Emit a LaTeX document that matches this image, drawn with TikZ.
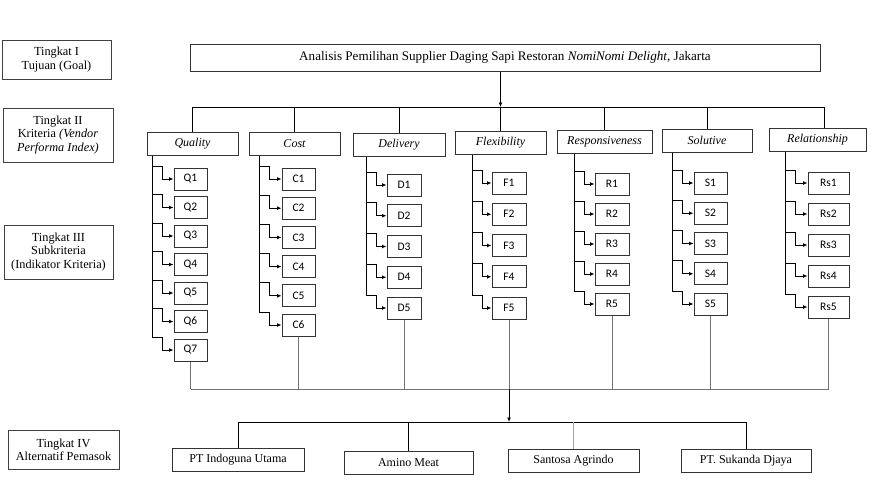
\documentclass[tikz,border=0pt]{standalone}
\usepackage{fontspec}
\setmainfont{Liberation Serif}
\newfontfamily\codefont{Carlito}
\usetikzlibrary{positioning,calc,arrows.meta}

\begin{document}
\begin{tikzpicture}[x=1pt, y=-1pt,
    level box/.style={draw=black!75, line width=1pt, rectangle, inner sep=0, align=center, font=\fontsize{12.3}{13.3}\selectfont},
    goal box/.style={draw=black!80, line width=1pt, rectangle, minimum width=630, minimum height=27, inner sep=0, font=\fontsize{13.1}{15}\selectfont},
    crit box/.style={draw=black!80, line width=1pt, rectangle, minimum height=23, inner sep=0, font=\fontsize{12}{14}\selectfont\itshape},
    sub box/.style={draw=black!80, line width=1pt, rectangle, minimum height=22, inner sep=0, font=\codefont\fontsize{11.5}{13}\selectfont},
    alt box/.style={draw=black!80, line width=1pt, rectangle, minimum height=23, inner sep=0, font=\fontsize{12}{14}\selectfont},
    link/.style={line width=0.9pt},
    grey link/.style={line width=0.9pt, black!55},
    >={Latex[length=4.5pt,width=4pt]}]
    \useasboundingbox (0,0) rectangle (881,490);

    % tingkat
    \node[level box, minimum width=109, minimum height=39] (lvl1) at (56.5,59.5) {Tingkat I\\Tujuan (Goal)};
    \node[level box, minimum width=110, minimum height=54] (lvl2) at (58,135) {Tingkat II\\Kriteria \textit{(Vendor}\\\textit{Performa Index)}};
    \node[level box, minimum width=109, minimum height=54] (lvl3) at (58.5,252) {Tingkat III\\Subkriteria\\(Indikator Kriteria)};
    \node[level box, minimum width=111, minimum height=39] (lvl4) at (63.5,449.5) {Tingkat IV\\Alternatif Pemasok};

    % goal and kriteria
    \node[goal box] (goal) at (505,57.5) {Analisis Pemilihan Supplier Daging Sapi Restoran \textit{NomiNomi Delight}, Jakarta};

    \node[crit box, minimum width=91] (quality) at (192.5,143.5) {Quality};
    \node[crit box, minimum width=91] (cost) at (294.5,143.5) {Cost};
    \node[crit box, minimum width=92] (delivery) at (399,144.5) {Delivery};
    \node[crit box, minimum width=91] (flexibility) at (500.5,143) {Flexibility};
    \node[crit box, minimum width=95] (responsiveness) at (604.5,142) {Responsiveness};
    \node[crit box, minimum width=90] (solutive) at (707,140.5) {Solutive};
    \node[crit box, minimum width=97] (relationship) at (817.5,140) {Relationship};

    \coordinate (kbus) at (0,107);
    \coordinate (sbus) at (0,389);
    \coordinate (abus) at (0,422);

    \draw[link,->] (goal.south -| flexibility) -- (flexibility.north |- kbus);
    \draw[link] (quality.north |- kbus) -- ([xshift=6.5]relationship.north |- kbus);
    \foreach \c in {quality,cost,delivery,flexibility,responsiveness,solutive}
        \draw[link] (\c.north |- kbus) -- (\c.north);
    \draw[link] ([xshift=6.5]relationship.north |- kbus) -- ([xshift=6.5]relationship.north);

    % subkriteria
    \foreach \k/\crit/\lx/\bx/\bw/\ty/\dy/\n in {
        Q/quality/152/174/33/168/28.5/7,
        C/cost/259/282/33/168/29.2/6,
        D/delivery/366/387/34/174/30.75/5,
        F/flexibility/472/492/34/172/31.25/5,
        R/responsiveness/574/595/34/173/30/5,
        S/solutive/672/694/33/172/30.25/5,
        Rs/relationship/785/808/41/172/31/5}{
        \foreach \i in {1,...,\n}{
            \node[sub box, minimum width=\bw] (\k\i) at ({\bx+\bw/2},{\ty+(\i-1)*\dy+11}) {\k\i};
            \coordinate (\k\i-in) at (\lx,{\ty+(\i-1)*\dy-2});
            \draw[link,->] (\k\i-in) -- ++(10,0) |- (\k\i.west);
        }
        \draw[link] (\crit.south -| \k1-in) -- (\k\n-in);
        \draw[grey link] (\k\n.south) -- (\k\n.south |- sbus);
    }

    % alternatif
    \node[alt box, minimum width=132] (indoguna) at (238,459.5) {PT Indoguna Utama};
    \node[alt box, minimum width=129] (amino) at (408.5,462.5) {Amino Meat};
    \node[alt box, minimum width=131] (santosa) at (573.5,460.5) {Santosa Agrindo};
    \node[alt box, minimum width=130] (sukanda) at (746,460.5) {PT. Sukanda Djaya};

    \draw[grey link] (Q7.south |- sbus) -- (Rs5.south |- sbus);
    \draw[link,->] (F5.south |- sbus) -- (F5.south |- abus);
    \draw[link] (indoguna.north |- abus) -- (sukanda.north |- abus);
    \foreach \a in {indoguna,amino,sukanda}
        \draw[link] (\a.north |- abus) -- (\a.north);
    \draw[grey link, black!35] (santosa.north |- abus) -- (santosa.north);
\end{tikzpicture}
\end{document}
